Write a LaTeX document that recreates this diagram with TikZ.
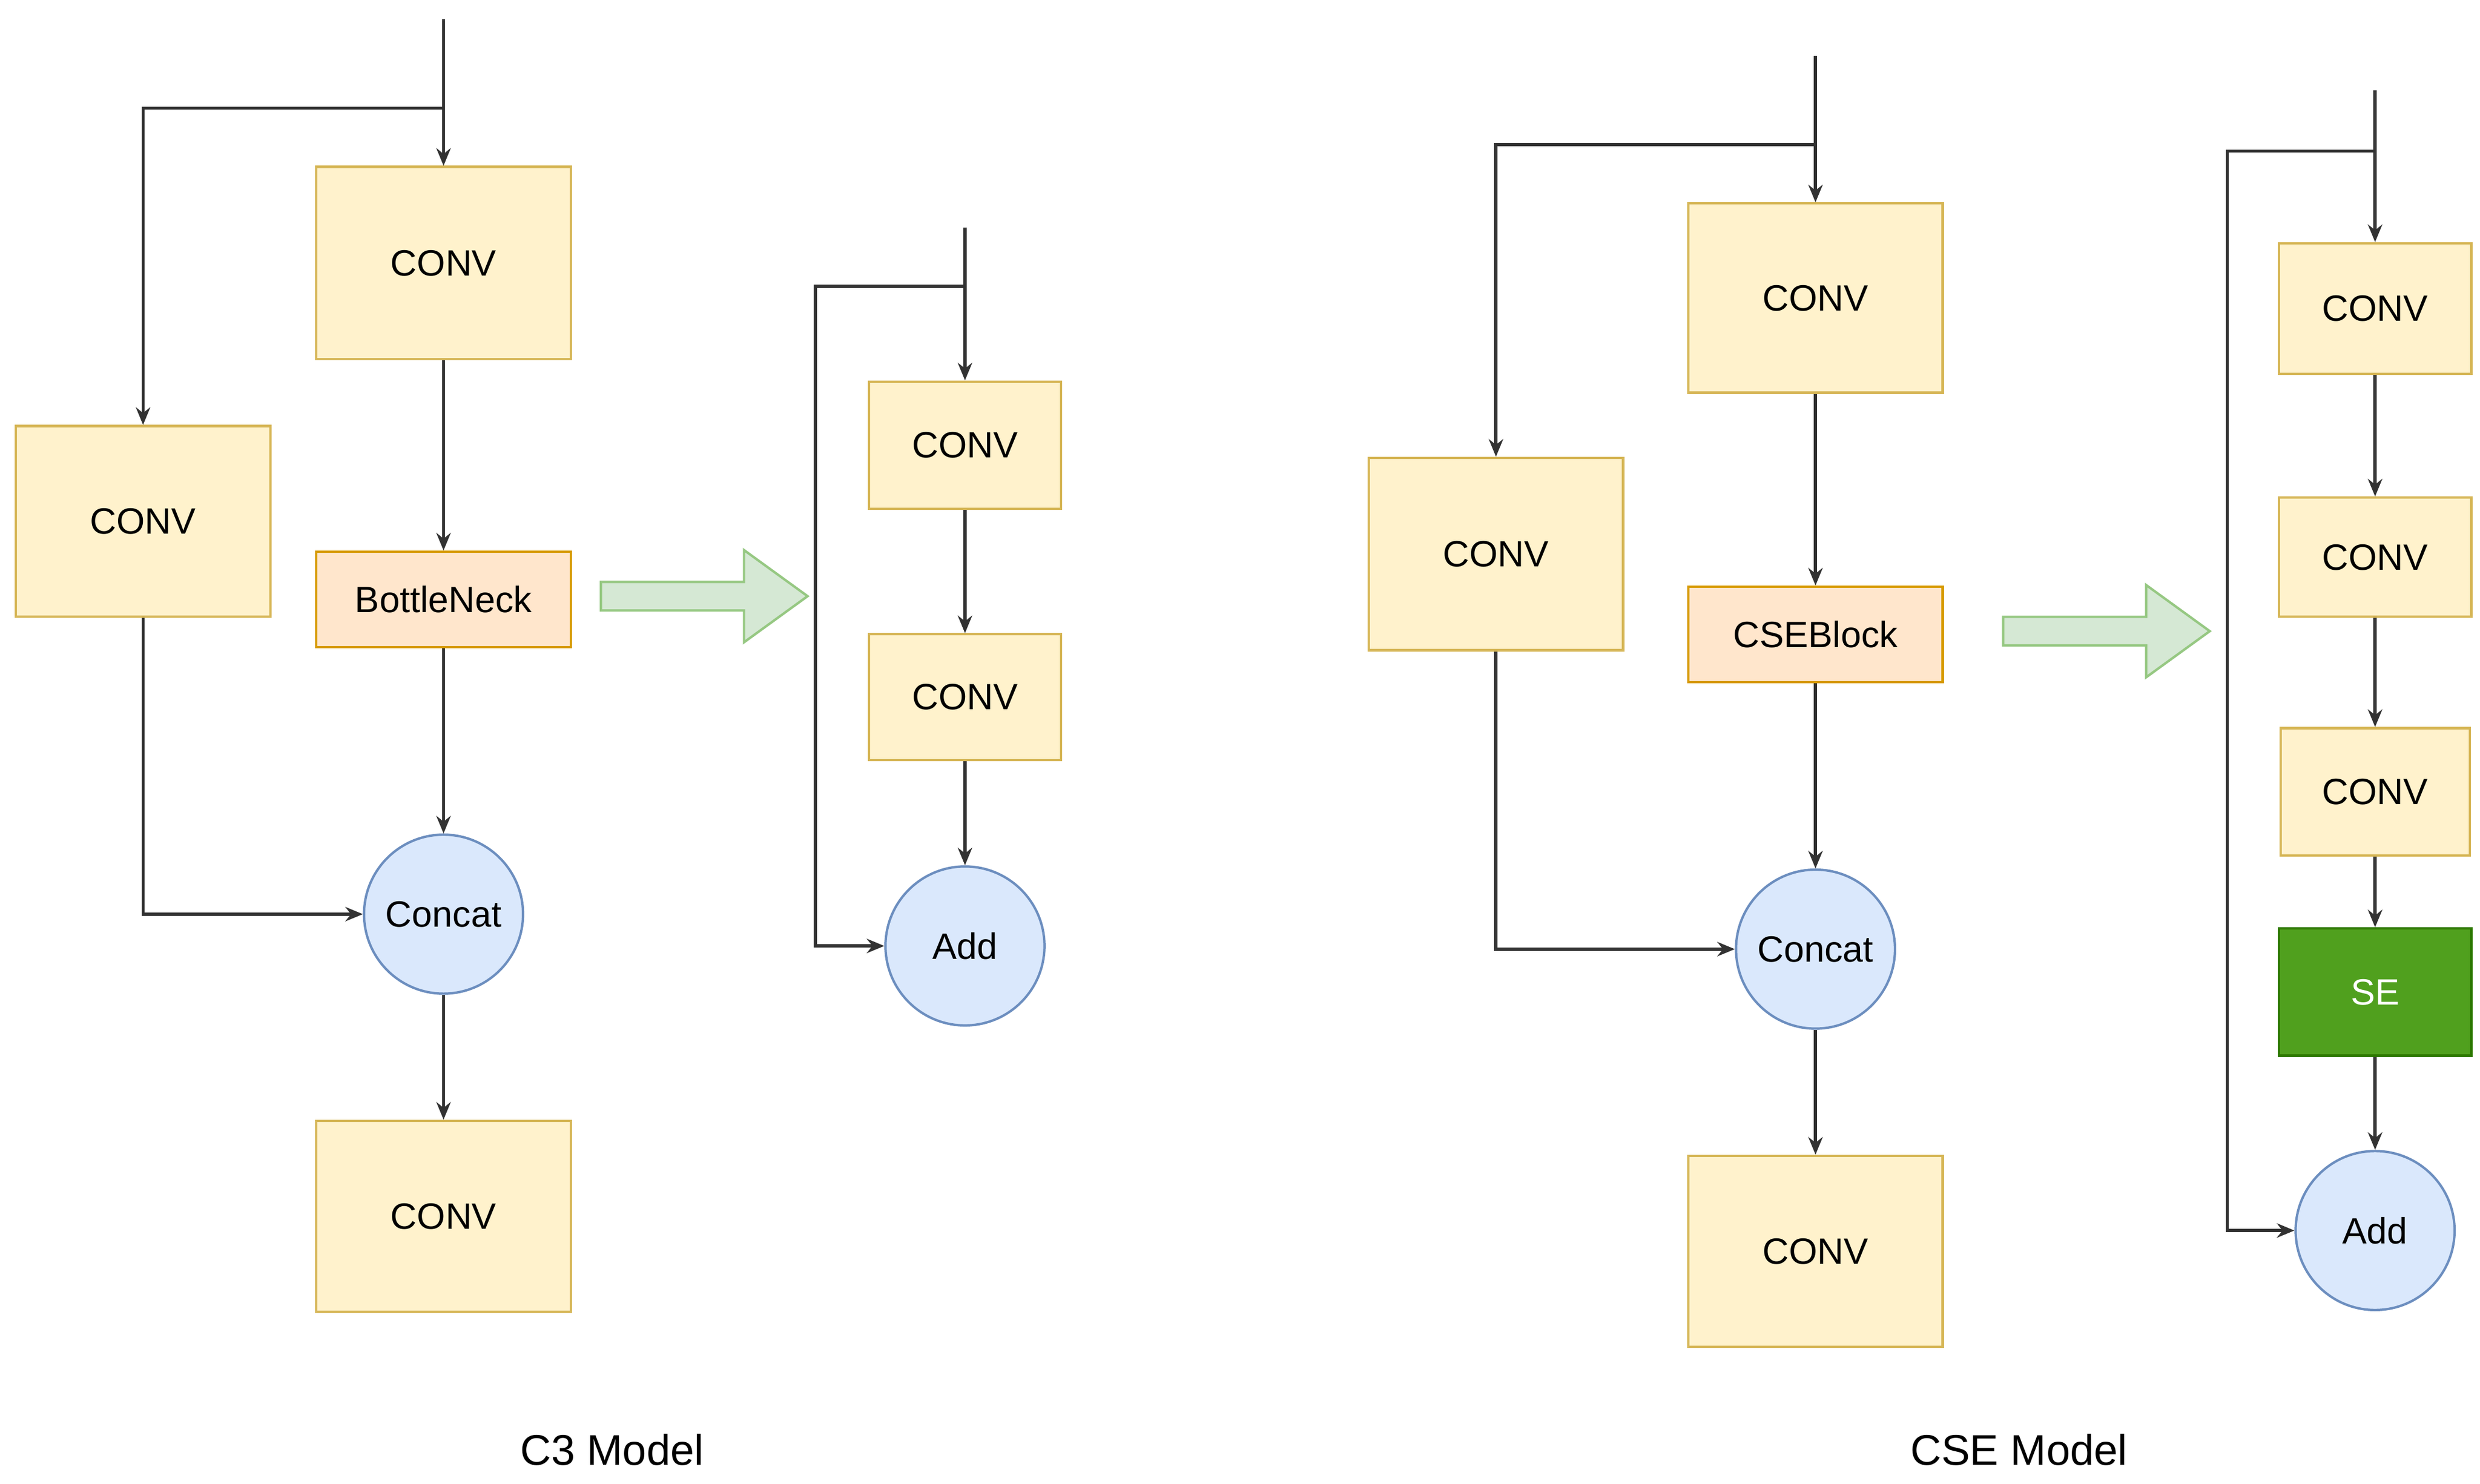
\documentclass[tikz,border=0pt]{standalone}
\usepackage{fontspec}
\setmainfont{Liberation Sans}
\usetikzlibrary{arrows.meta,shapes.geometric}
\begin{document}
\begin{tikzpicture}[x=1pt,y=-1pt,
  font=\fontsize{23}{27}\selectfont,
  yel/.style={draw={rgb,255:red,214;green,182;blue,86},fill={rgb,255:red,255;green,242;blue,204},line width=1.5pt,inner sep=0pt},
  pea/.style={draw={rgb,255:red,215;green,155;blue,0},fill={rgb,255:red,255;green,230;blue,204},line width=1.5pt,inner sep=0pt},
  circ/.style={circle,draw={rgb,255:red,108;green,142;blue,191},fill={rgb,255:red,218;green,232;blue,252},line width=1.5pt,minimum size=100pt,inner sep=0pt},
  se/.style={draw={rgb,255:red,45;green,120;blue,0},fill={rgb,255:red,80;green,160;blue,30},text=white,line width=1.5pt,inner sep=0pt},
  ln/.style={draw={rgb,255:red,50;green,50;blue,50},line width=2pt,-{Stealth[length=11pt,width=9pt]}},
  big/.style={draw={rgb,255:red,150;green,200;blue,130},fill={rgb,255:red,213;green,232;blue,212},line width=1.5pt}]
\useasboundingbox (0,0) rectangle (1560,933.4);
% ---- C3 model
\node[yel,minimum width=160pt,minimum height=121pt] (c1) at (279,165.5) {CONV};
\node[yel,minimum width=160pt,minimum height=120pt] (cl) at (90,328) {CONV};
\node[pea,minimum width=160pt,minimum height=60pt] (bn) at (279,377) {BottleNeck};
\node[circ] (cat) at (279,575) {Concat};
\node[yel,minimum width=160pt,minimum height=120pt] (cb) at (279,765) {CONV};
\coordinate (t1) at (279,12);
\coordinate (b1) at (279,68);
\draw[ln] (t1) -- (c1.north);
\draw[ln] (b1) -| (cl.north);
\draw[ln] (c1) -- (bn);
\draw[ln] (bn) -- (cat);
\draw[ln] (cat) -- (cb);
\draw[ln] (cl.south) |- (cat.west);
\draw[big] (378,366) -- (468,366) -- (468,346) -- (508,375) -- (468,404) -- (468,384) -- (378,384) -- cycle;
\node[yel,minimum width=121pt,minimum height=80pt] (s1) at (607,280) {CONV};
\node[yel,minimum width=121pt,minimum height=79pt] (s2) at (607,438.5) {CONV};
\node[circ] (add1) at (607,595) {Add};
\coordinate (t2) at (607,143);
\coordinate (b2) at (607,180);
\coordinate (b2l) at (513,180);
\draw[ln] (t2) -- (s1.north);
\draw[ln] (s1) -- (s2);
\draw[ln] (s2) -- (add1);
\draw[ln] (b2) -- (b2l) |- (add1.west);
\node[font=\fontsize{27}{32}\selectfont] (lab1) at (385,912) {C3 Model};
% ---- CSE model
\node[yel,minimum width=160pt,minimum height=119pt] (d1) at (1142,187.5) {CONV};
\node[yel,minimum width=160pt,minimum height=121pt] (dl) at (941,348.5) {CONV};
\node[pea,minimum width=160pt,minimum height=60pt] (cse) at (1142,399) {CSEBlock};
\node[circ] (cat2) at (1142,597) {Concat};
\node[yel,minimum width=160pt,minimum height=120pt] (db) at (1142,787) {CONV};
\coordinate (t3) at (1142,35);
\coordinate (b3) at (1142,91);
\draw[ln] (t3) -- (d1.north);
\draw[ln] (b3) -| (dl.north);
\draw[ln] (d1) -- (cse);
\draw[ln] (cse) -- (cat2);
\draw[ln] (cat2) -- (db);
\draw[ln] (dl.south) |- (cat2.west);
\draw[big] (1260,388) -- (1350,388) -- (1350,368) -- (1390,397) -- (1350,426) -- (1350,406) -- (1260,406) -- cycle;
\node[yel,minimum width=121pt,minimum height=82pt] (e1) at (1494,194) {CONV};
\node[yel,minimum width=121pt,minimum height=75pt] (e2) at (1494,350.5) {CONV};
\node[yel,minimum width=119pt,minimum height=80pt] (e3) at (1494,498) {CONV};
\node[se,minimum width=121pt,minimum height=80pt] (se) at (1494,624) {SE};
\node[circ] (add2) at (1494,774) {Add};
\coordinate (t4) at (1494,57);
\coordinate (b4) at (1494,95);
\coordinate (b4l) at (1401,95);
\draw[ln] (t4) -- (e1.north);
\draw[ln] (e1) -- (e2);
\draw[ln] (e2) -- (e3);
\draw[ln] (e3) -- (se);
\draw[ln] (se) -- (add2);
\draw[ln] (b4) -- (b4l) |- (add2.west);
\node[font=\fontsize{27}{32}\selectfont] (lab2) at (1270,912) {CSE Model};
\end{tikzpicture}
\end{document}
